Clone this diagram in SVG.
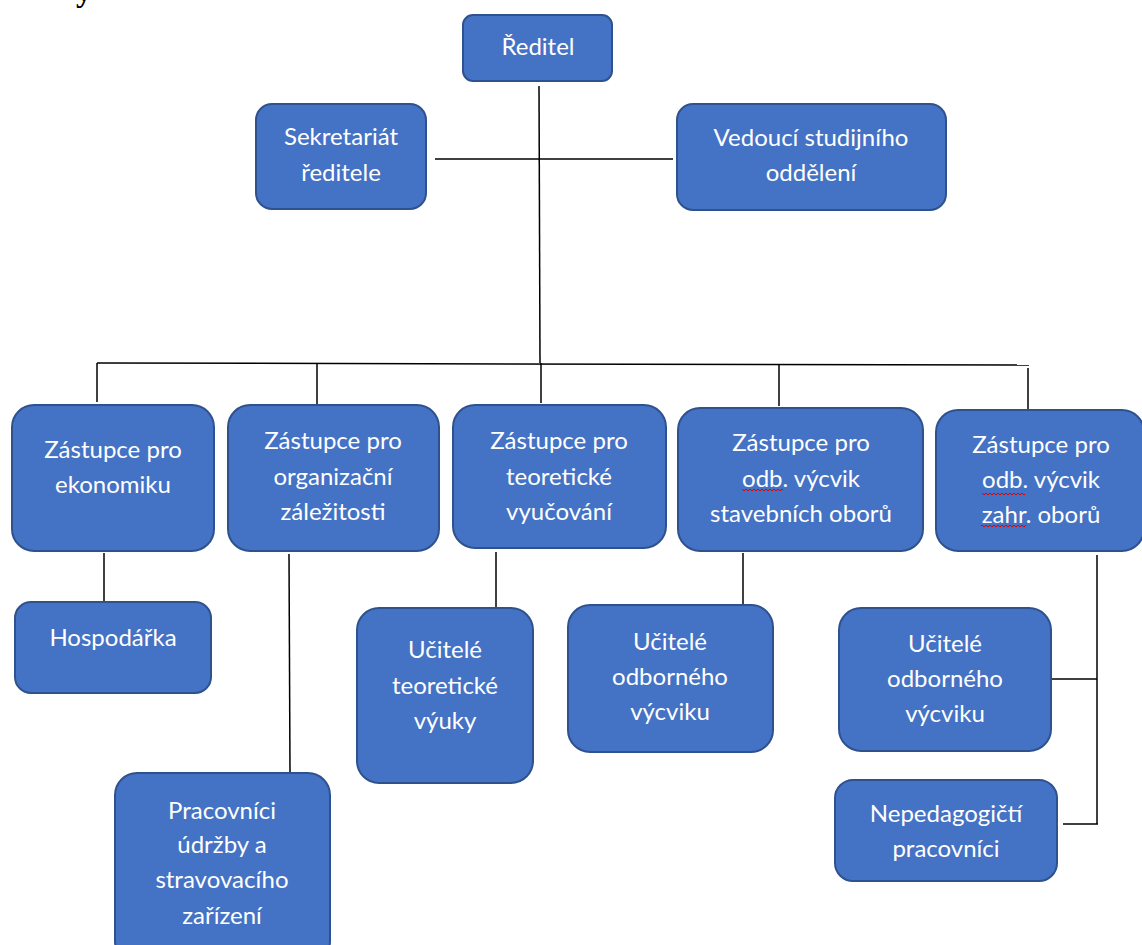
<svg xmlns="http://www.w3.org/2000/svg" width="1142" height="945" viewBox="0 0 1142 945">
<style>
.box{fill:#4472C4;stroke:#2F528F;stroke-width:2}
.lbl{font-family:Lato,"Open Sans","Noto Sans",sans-serif;font-size:24px;fill:#ffffff;text-anchor:middle}
.con line{stroke:#000;stroke-width:1.5;fill:none}
.sq{fill:url(#squig)}
</style>
<defs>
<pattern id="squig" x="0" y="0" width="4" height="4" patternUnits="userSpaceOnUse">
<path d="M0,3 L2,1 L4,3" fill="none" stroke="#E00000" stroke-width="1"/>
</pattern>
</defs>
<rect width="1142" height="945" fill="#ffffff"/>
<text x="76" y="1" font-family="Liberation Serif,serif" font-size="32" font-weight="bold" fill="#000">y</text>

<g id="connectors" class="con">
<line x1="539" y1="86" x2="540" y2="363"/>
<line x1="435" y1="159" x2="673" y2="159"/>
<line x1="97" y1="363" x2="1029" y2="365"/>
<line x1="541" y1="363" x2="541" y2="403"/>
<line x1="97" y1="363" x2="97" y2="402"/>
<line x1="317" y1="364" x2="317" y2="404"/>
<line x1="779" y1="364" x2="779" y2="406"/>
<line x1="1028" y1="368" x2="1028" y2="415"/>
<line x1="104" y1="553" x2="104" y2="602"/>
<line x1="289" y1="554" x2="290" y2="773"/>
<line x1="496" y1="552" x2="496" y2="608"/>
<line x1="743" y1="553" x2="743" y2="608"/>
<line x1="1097" y1="555" x2="1097" y2="824"/>
<line x1="1052" y1="679" x2="1097" y2="679"/>
<line x1="1063" y1="824" x2="1098" y2="824"/>
</g>

<g id="reditel">
<rect class="box" x="463" y="15" width="149" height="66" rx="10"/>
<text class="lbl" x="538" y="55">Ředitel</text>
</g>
<g id="sekretariat">
<rect class="box" x="256" y="104" width="170" height="105" rx="16"/>
<text class="lbl" x="341" y="145">Sekretariát</text>
<text class="lbl" x="341" y="181">ředitele</text>
</g>
<g id="vedouci">
<rect class="box" x="677" y="104" width="269" height="106" rx="16"/>
<text class="lbl" x="811" y="146">Vedoucí studijního</text>
<text class="lbl" x="811" y="181">oddělení</text>
</g>
<g id="zastupce-ekonomika">
<rect class="box" x="12" y="405" width="202" height="146" rx="22"/>
<text class="lbl" x="113" y="458">Zástupce pro</text>
<text class="lbl" x="113" y="493">ekonomiku</text>
</g>
<g id="zastupce-organizacni">
<rect class="box" x="228" y="405" width="211" height="146" rx="22"/>
<text class="lbl" x="333" y="449">Zástupce pro</text>
<text class="lbl" x="333" y="485">organizační</text>
<text class="lbl" x="333" y="520">záležitosti</text>
</g>
<g id="zastupce-teoreticke">
<rect class="box" x="453" y="405" width="213" height="143" rx="22"/>
<text class="lbl" x="559" y="449">Zástupce pro</text>
<text class="lbl" x="559" y="485">teoretické</text>
<text class="lbl" x="559" y="520">vyučování</text>
</g>
<g id="zastupce-stavebni">
<rect class="box" x="678" y="408" width="245" height="143" rx="22"/>
<text class="lbl" x="801" y="451">Zástupce pro</text>
<text class="lbl" x="801" y="487">odb. výcvik</text>
<text class="lbl" x="801" y="522">stavebních oborů</text>
<rect class="sq" x="742" y="489" width="41" height="4"/>
</g>
<g id="zastupce-zahranicni">
<rect class="box" x="936" y="410" width="208" height="141" rx="22"/>
<text class="lbl" x="1041" y="453">Zástupce pro</text>
<text class="lbl" x="1041" y="488">odb. výcvik</text>
<text class="lbl" x="1041" y="523">zahr. oborů</text>
<rect class="sq" x="982" y="491" width="43" height="4"/>
<rect class="sq" x="981" y="525" width="45" height="4"/>
</g>
<g id="hospodarka">
<rect class="box" x="15" y="602" width="196" height="91" rx="16"/>
<text class="lbl" x="113" y="646">Hospodářka</text>
</g>
<g id="pracovnici-udrzby">
<rect class="box" x="115" y="773" width="215" height="190" rx="22"/>
<text class="lbl" x="222" y="819">Pracovníci</text>
<text class="lbl" x="222" y="853">údržby a</text>
<text class="lbl" x="222" y="888">stravovacího</text>
<text class="lbl" x="222" y="924">zařízení</text>
</g>
<g id="ucitele-teoreticke">
<rect class="box" x="357" y="608" width="176" height="175" rx="22"/>
<text class="lbl" x="445" y="658">Učitelé</text>
<text class="lbl" x="445" y="694">teoretické</text>
<text class="lbl" x="445" y="729">výuky</text>
</g>
<g id="ucitele-odborne-1">
<rect class="box" x="568" y="605" width="205" height="147" rx="22"/>
<text class="lbl" x="670" y="650">Učitelé</text>
<text class="lbl" x="670" y="685">odborného</text>
<text class="lbl" x="670" y="720">výcviku</text>
</g>
<g id="ucitele-odborne-2">
<rect class="box" x="839" y="608" width="212" height="143" rx="22"/>
<text class="lbl" x="945" y="652">Učitelé</text>
<text class="lbl" x="945" y="687">odborného</text>
<text class="lbl" x="945" y="722">výcviku</text>
</g>
<g id="nepedagogicti">
<rect class="box" x="835" y="780" width="222" height="101" rx="18"/>
<text class="lbl" x="946" y="822">Nepedagogičtí</text>
<text class="lbl" x="946" y="857">pracovníci</text>
</g>
</svg>
